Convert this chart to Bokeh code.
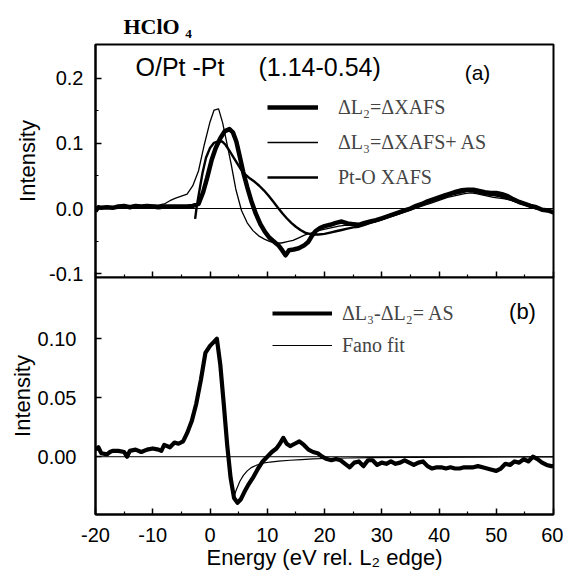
from bokeh.plotting import figure
from bokeh.layouts import column
from bokeh.models import (Range1d, FixedTicker, PrintfTickFormatter, Span, Label, Legend,
                          LegendItem, Title, CustomJSTickFormatter)
from bokeh.embed import file_html
from bokeh.resources import INLINE

# ---------------- data ----------------
# Panel (a)
e_l3 = [-20, -19, -18, -17, -16, -15, -14, -13, -12, -11, -10, -9, -8, -7, -6, -5, -4, -3, -2, -1,
        0, 0.7, 1.5, 2.2, 3, 3.7, 4.5, 5.5, 6.5, 7.5, 8.5, 9.5, 10.5, 11.5, 12.5, 13.5, 14.5, 15.5,
        16.5, 17.5, 18.5, 19.5, 20.5, 21.5, 22.5, 23.5, 24.5, 25.5, 26.5, 27.5, 28.5, 29.5, 30.5,
        31.5, 32.5, 33.5, 34.5, 35.5, 36.5, 37.5, 38.5, 39.5, 40.5, 41.5, 42.5, 43.5, 44.5, 45.5,
        46.5, 47.5, 48.5, 49.5, 50.5, 51.5, 52.5, 53.5, 54.5, 55.5, 56.5, 57.5, 58.5, 59.5, 60]
i_l3 = [0.0, 0.002, 0.001, 0.003, 0.002, 0.003, 0.002, 0.004, 0.003, 0.004, 0.005, 0.005, 0.007,
        0.012, 0.016, 0.019, 0.022, 0.035, 0.058, 0.098, 0.133, 0.151, 0.153, 0.132, 0.098, 0.068,
        0.030, -0.003, -0.022, -0.034, -0.042, -0.047, -0.051, -0.053, -0.053, -0.051, -0.049,
        -0.045, -0.041, -0.038, -0.035, -0.033, -0.031, -0.029, -0.027, -0.026, -0.026, -0.025,
        -0.025, -0.023, -0.021, -0.019, -0.016, -0.013, -0.010, -0.007, -0.004, -0.001, 0.002,
        0.005, 0.008, 0.011, 0.014, 0.017, 0.019, 0.021, 0.023, 0.024, 0.023, 0.021, 0.019, 0.017,
        0.016, 0.015, 0.013, 0.010, 0.007, 0.005, 0.002, 0.000, -0.002, -0.004, -0.005]

e_l2 = [-20, -19.5, -19, -18, -17, -16, -15, -14, -13, -12, -11, -10, -9, -8, -7, -6, -5, -4, -3,
        -2, -1.2, -0.5, 0.3, 1, 1.8, 2.6, 3.4, 4, 4.6, 5.2, 5.8, 6.5, 7.2, 8, 8.8, 9.6, 10.4, 11.2,
        12, 12.6, 13.2, 13.8, 14.6, 15.5, 16.4, 17.2, 17.8, 18.4, 19.2, 20, 21, 22, 23, 24, 25, 26,
        27, 28, 29, 30, 31, 32, 33, 34, 35, 36, 37, 38, 39, 40, 41, 42, 43, 44, 45, 46, 47, 48, 49,
        50, 51, 52, 53, 54, 55, 56, 57, 58, 59, 60]
i_l2 = [-0.004, 0.002, 0.001, 0.002, 0.001, 0.003, 0.004, 0.002, 0.004, 0.003, 0.004, 0.003, 0.002,
        0.003, 0.003, 0.003, 0.003, 0.003, 0.004, 0.007, 0.025, 0.047, 0.075, 0.093, 0.108, 0.119,
        0.122, 0.117, 0.103, 0.080, 0.056, 0.033, 0.012, -0.008, -0.024, -0.036, -0.045, -0.051,
        -0.057, -0.064, -0.072, -0.064, -0.063, -0.061, -0.057, -0.051, -0.042, -0.035, -0.030,
        -0.027, -0.025, -0.022, -0.020, -0.023, -0.024, -0.025, -0.022, -0.020, -0.018, -0.015,
        -0.012, -0.009, -0.006, -0.003, 0.000, 0.004, 0.007, 0.011, 0.014, 0.017, 0.020, 0.023,
        0.026, 0.028, 0.029, 0.029, 0.027, 0.025, 0.024, 0.024, 0.022, 0.019, 0.014, 0.010, 0.007,
        0.004, 0.002, -0.002, -0.003, -0.006]

e_pto = [-2.6, -2.3, -1.8, -1.3, -0.7, 0, 0.7, 1.4, 2.1, 2.7, 3.3, 4, 4.7, 5.4, 6.2, 7, 7.8, 8.6,
         9.4, 10.2, 11, 11.8, 12.6, 13.4, 14.2, 15, 15.8, 16.6, 17.4, 18.2, 19, 20, 21, 22, 23, 24,
         25, 26, 27, 28, 29, 30, 31, 32, 33, 34, 35, 36, 37, 38, 39, 40, 41, 42, 43, 44, 45, 46, 47,
         48, 49, 50, 51, 52, 53, 54, 55, 56, 57, 58, 59, 60]
i_pto = [-0.016, 0.004, 0.030, 0.055, 0.078, 0.093, 0.101, 0.103, 0.103, 0.098, 0.090, 0.080,
         0.070, 0.060, 0.052, 0.046, 0.041, 0.035, 0.028, 0.020, 0.011, 0.002, -0.007, -0.015,
         -0.022, -0.028, -0.033, -0.037, -0.039, -0.040, -0.040, -0.039, -0.037, -0.035, -0.033,
         -0.031, -0.029, -0.028, -0.025, -0.022, -0.019, -0.016, -0.013, -0.010, -0.007, -0.004,
         -0.001, 0.003, 0.006, 0.009, 0.012, 0.015, 0.018, 0.021, 0.023, 0.025, 0.027, 0.026,
         0.024, 0.022, 0.021, 0.020, 0.018, 0.015, 0.012, 0.009, 0.006, 0.003, 0.000, -0.002,
         -0.004, -0.005]

# Panel (b)
e_as = [-20, -19.5, -19, -18, -17.5, -17, -16, -15, -14.5, -14, -13, -12, -11, -10, -9, -8.5, -8,
        -7, -6.2, -5.5, -4.7, -4, -3.2, -2.4, -1.6, -0.8, 0, 0.6, 1.2, 1.8, 2.4, 3, 3.6, 4.2, 4.8,
        5.4, 6, 6.8, 7.6, 8.4, 9.2, 10, 10.8, 11.6, 12.2, 12.8, 13.4, 14, 14.8, 15.6, 16.4, 17.2,
        18, 18.8, 19.6, 20.4, 21.2, 22, 22.8, 23.6, 24.4, 25.2, 26, 26.8, 27.6, 28.4, 29.2, 30,
        30.8, 31.6, 32.4, 33.2, 34, 34.8, 35.6, 36.4, 37.2, 38, 38.8, 39.6, 40.4, 41.2, 42, 42.8,
        43.6, 44.4, 45.2, 46, 46.8, 47.6, 48.4, 49.2, 50, 50.8, 51.6, 52.4, 53.2, 54, 54.8, 55.6,
        56.4, 57.2, 58, 58.8, 59.6, 60]
i_as = [0.006, 0.008, 0.003, 0.002, 0.004, 0.005, 0.005, 0.004, 0.000, 0.005, 0.006, 0.004, 0.006,
        0.007, 0.006, 0.005, 0.010, 0.008, 0.012, 0.011, 0.013, 0.020, 0.030, 0.045, 0.065, 0.088,
        0.094, 0.097, 0.100, 0.078, 0.045, 0.010, -0.018, -0.035, -0.039, -0.036, -0.030, -0.023,
        -0.017, -0.010, -0.004, 0.000, 0.004, 0.007, 0.011, 0.016, 0.011, 0.009, 0.011, 0.013,
        0.010, 0.006, 0.004, 0.003, 0.000, -0.002, -0.003, -0.002, -0.003, -0.006, -0.009,
        -0.005, -0.004, -0.008, -0.003, -0.003, -0.007, -0.005, -0.006, -0.004, -0.006, -0.005,
        -0.003, -0.005, -0.007, -0.005, -0.004, -0.008, -0.010, -0.009, -0.009, -0.010, -0.009,
        -0.010, -0.010, -0.009, -0.009, -0.009, -0.008, -0.009, -0.010, -0.011, -0.012, -0.010,
        -0.006, -0.007, -0.004, -0.005, -0.002, -0.004, 0.000, -0.002, -0.005, -0.007, -0.008,
        -0.008]

e_fano = [4.1, 4.6, 5.2, 5.8, 6.5, 7.3, 8.2, 9.2, 10.5, 12, 14, 16, 18, 20, 24, 28, 35, 45, 60]
i_fano = [-0.035, -0.028, -0.021, -0.016, -0.012, -0.009, -0.007, -0.0055, -0.0045, -0.0037,
          -0.003, -0.0024, -0.0019, -0.0015, -0.0011, -0.0008, -0.0005, -0.0003, -0.0002]

x_major = [-20, -10, 0, 10, 20, 30, 40, 50, 60]
x_minor = [-15, -5, 5, 15, 25, 35, 45, 55]
ya_major = [-0.1, 0.0, 0.1, 0.2]
ya_minor = [-0.05, 0.05, 0.15]
yb_major = [0.0, 0.05, 0.10]

legend_a = ["ΔL₂=ΔXAFS", "ΔL₃=ΔXAFS+ AS", "Pt-O XAFS"]
legend_b = ["ΔL₃-ΔL₂= AS", "Fano fit"]

SANS = "Liberation Sans"
SERIF = "Liberation Serif"

x_range = Range1d(-20, 60)


def base(p):
    p.background_fill_color = "white"
    p.outline_line_color = "black"
    p.outline_line_width = 2
    p.xgrid.visible = False
    p.ygrid.visible = False
    for ax in p.axis:
        ax.axis_line_width = 2
        ax.axis_line_color = "black"
        ax.major_tick_in = 6
        ax.major_tick_out = 0
        ax.minor_tick_in = 3
        ax.minor_tick_out = 0
        ax.major_tick_line_width = 1.5
        ax.minor_tick_line_width = 1.2
        ax.major_label_text_font = SANS
        ax.major_label_text_font_size = "20px"
        ax.major_label_text_color = "black"
        ax.axis_label_text_font = SANS
        ax.axis_label_text_font_size = "22px"
        ax.axis_label_text_font_style = "normal"
        ax.axis_label_text_color = "black"


OVERLAP = 10

# ---------------- panel (a) ----------------
p1 = figure(frame_width=458, frame_height=233, x_range=x_range, y_range=Range1d(-0.106, 0.252),
            output_backend="svg", toolbar_location=None,
            min_border_left=95, min_border_right=10, min_border_top=44,
            min_border_bottom=OVERLAP)
base(p1)
p1.border_fill_color = "white"
p1.xaxis.ticker = FixedTicker(ticks=x_major, minor_ticks=x_minor)
p1.xaxis.formatter = CustomJSTickFormatter(code="return ''")
p1.xaxis.major_label_text_font_size = "0px"
p1.xaxis.major_label_standoff = 0
p1.yaxis.ticker = FixedTicker(ticks=ya_major, minor_ticks=ya_minor)
p1.yaxis.formatter = PrintfTickFormatter(format="%.1f")
p1.yaxis.axis_label = "Intensity"
p1.yaxis.major_label_standoff = 12
p1.yaxis.axis_label_standoff = 6

p1.title = Title(text="HClO ₄", align="left", offset=28, standoff=12,
                 text_font=SERIF, text_font_size="22px", text_font_style="bold",
                 text_color="black")

p1.add_layout(Span(location=0, dimension="width", line_color="black", line_width=1))

r_l2 = p1.line(e_l2, i_l2, line_color="black", line_width=4.5, line_join="round")
r_l3 = p1.line(e_l3, i_l3, line_color="black", line_width=1.3, line_join="round")
r_pto = p1.line(e_pto, i_pto, line_color="black", line_width=2.4, line_join="round")

leg_a = Legend(items=[LegendItem(label=legend_a[0], renderers=[r_l2]),
                      LegendItem(label=legend_a[1], renderers=[r_l3]),
                      LegendItem(label=legend_a[2], renderers=[r_pto])],
               location=(172, 84), glyph_width=51, glyph_height=32, label_height=32,
               spacing=3, padding=0, margin=0, label_standoff=20,
               label_text_font=SERIF, label_text_font_size="20px",
               border_line_alpha=0, background_fill_alpha=0)
p1.add_layout(leg_a, "center")

p1.add_layout(Label(x=40, y=197, x_units="screen", y_units="screen", text="O/Pt -Pt",
                    text_font=SANS, text_font_size="25px", text_color="black"))
p1.add_layout(Label(x=163, y=197, x_units="screen", y_units="screen", text="(1.14-0.54)",
                    text_font=SANS, text_font_size="25px", text_color="black"))
p1.add_layout(Label(x=382, y=194, x_units="screen", y_units="screen", text="(a)",
                    text_font=SANS, text_font_size="21px", text_align="center",
                    text_color="black"))

# ---------------- panel (b) ----------------
p2 = figure(frame_width=458, frame_height=237, x_range=x_range, y_range=Range1d(-0.049, 0.152),
            output_backend="svg", toolbar_location=None,
            min_border_left=95, min_border_right=10, min_border_top=0, min_border_bottom=64)
base(p2)
p2.border_fill_alpha = 0
p2.margin = (-OVERLAP, 0, 0, 0)
p2.xaxis.ticker = FixedTicker(ticks=x_major, minor_ticks=x_minor)
p2.xaxis.formatter = PrintfTickFormatter(format="%d")
p2.xaxis.axis_label = "Energy (eV rel. L₂ edge)"
p2.xaxis.major_label_standoff = 13
p2.xaxis.axis_label_standoff = 0
p2.yaxis.ticker = FixedTicker(ticks=yb_major)
p2.yaxis.formatter = PrintfTickFormatter(format="%.2f")
p2.yaxis.axis_label = "Intensity"
p2.yaxis.major_label_standoff = 19
p2.yaxis.axis_label_standoff = 0

p2.add_layout(Span(location=0, dimension="width", line_color="black", line_width=1))

r_as = p2.line(e_as, i_as, line_color="black", line_width=4.2, line_join="round")
r_fano = p2.line(e_fano, i_fano, line_color="black", line_width=1.2, line_join="round")

leg_b = Legend(items=[LegendItem(label=legend_b[0], renderers=[r_as]),
                      LegendItem(label=legend_b[1], renderers=[r_fano])],
               location=(177, 154), glyph_width=60, glyph_height=30, label_height=30,
               spacing=2, padding=0, margin=0, label_standoff=10,
               label_text_font=SERIF, label_text_font_size="20px",
               border_line_alpha=0, background_fill_alpha=0)
p2.add_layout(leg_b, "center")

p2.add_layout(Label(x=427, y=191, x_units="screen", y_units="screen", text="(b)",
                    text_font=SANS, text_font_size="22px", text_align="center",
                    text_color="black"))

layout = column(p1, p2, spacing=0)
open("out.html", "w").write(file_html(layout, INLINE))
